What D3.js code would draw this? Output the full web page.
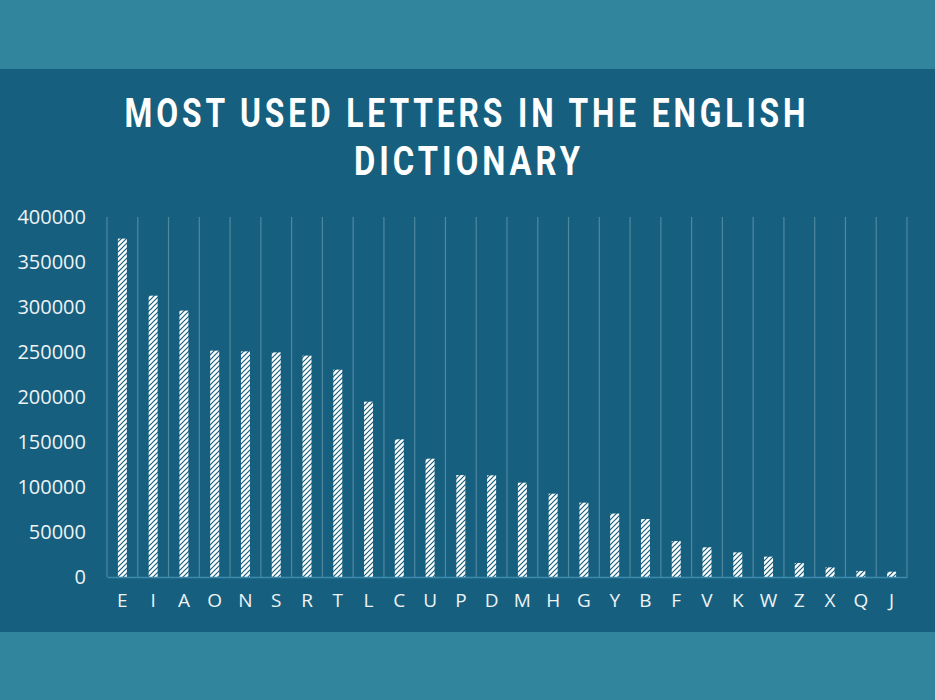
<!DOCTYPE html>
<html>
<head>
<meta charset="utf-8">
<script src="https://cdn.jsdelivr.net/npm/d3@7"></script>
<style>
  html, body { margin: 0; padding: 0; background: #31859C; }
  svg { display: block; }
</style>
</head>
<body>
<script>
const letters = ["E","I","A","O","N","S","R","T","L","C","U","P","D","M","H","G","Y","B","F","V","K","W","Z","X","Q","J"];
const counts = [376000,312600,296000,251500,250700,249600,246000,230400,194800,153000,131500,113300,113000,104800,92600,82600,70500,64400,40000,33000,27400,22600,15600,10700,6700,5900];
const yTicks = [0,50000,100000,150000,200000,250000,300000,350000,400000];
const titleLines = ["MOST USED LETTERS IN THE ENGLISH", "DICTIONARY"];

const W = 935, H = 700;
const svg = d3.select("body").append("svg").attr("width", W).attr("height", H);

// backgrounds
svg.append("rect").attr("width", W).attr("height", H).attr("fill", "#31859C");
svg.append("rect").attr("x", 0).attr("y", 69).attr("width", W).attr("height", 563).attr("fill", "#175F7E");

// pattern
const defs = svg.append("defs");
const pat = defs.append("pattern").attr("id", "diag").attr("patternUnits", "userSpaceOnUse")
  .attr("width", 5).attr("height", 5);
pat.append("rect").attr("width", 5).attr("height", 5).attr("fill", "#ffffff");
pat.append("path").attr("d", "M-1,1 L1,-1 M0,5 L5,0 M4,6 L6,4")
  .attr("stroke", "#175F7E").attr("stroke-width", 1.2);

const plot = {left: 107, right: 907, top: 217, bottom: 577};

const x = d3.scaleBand().domain(letters).range([plot.left, plot.right]).paddingInner(0).paddingOuter(0);
const y = d3.scaleLinear().domain([0, 400000]).range([plot.bottom, plot.top]);

const gridColor = "#4F88A2";

// vertical gridlines at band boundaries
const bounds = letters.map(d => x(d)).concat([x(letters[letters.length-1]) + x.bandwidth()]);
svg.append("g").selectAll("line").data(bounds).join("line")
  .attr("x1", d => d).attr("x2", d => d)
  .attr("y1", y(400000)).attr("y2", y(0))
  .attr("stroke", gridColor).attr("stroke-width", 1.2);

// bars
const barW = 9;
svg.append("g").selectAll("rect").data(letters.map((l, i) => ({l, v: counts[i]}))).join("rect")
  .attr("x", d => x(d.l) + x.bandwidth()/2 - barW/2)
  .attr("y", d => y(d.v))
  .attr("width", barW)
  .attr("height", d => y(0) - y(d.v))
  .attr("fill", "url(#diag)");

// x axis
const xAxis = svg.append("g").attr("transform", `translate(0,${plot.bottom})`)
  .call(d3.axisBottom(x).tickSize(0).tickPadding(17));
xAxis.select(".domain").attr("stroke", "#3C8BAE").attr("stroke-width", 1.5);
xAxis.selectAll("text").attr("fill", "#EEF3F6").style("font-family", "'Open Sans', sans-serif").style("font-size", "19px");

// y axis
const yAxis = svg.append("g").attr("transform", `translate(${plot.left - 21},0)`)
  .call(d3.axisLeft(y).tickValues(yTicks).tickFormat(d3.format("d")).tickSize(0).tickPadding(0));
yAxis.select(".domain").remove();
yAxis.selectAll("text").attr("fill", "#EEF3F6").style("font-family", "'Open Sans', sans-serif").style("font-size", "20px");

// title: bold, letter-spaced, horizontally condensed to fit target widths
function titleLine(txt, cx, baseline, targetW) {
  const t = svg.append("text").attr("x", 0).attr("y", 0).attr("text-anchor", "middle")
    .style("font-family", "Roboto, sans-serif").style("font-weight", 700).style("font-size", "41px")
    .style("letter-spacing", "5px")
    .attr("fill", "#ffffff").text(txt);
  const w = t.node().getComputedTextLength();
  const sx = targetW / w;
  t.attr("transform", `translate(${cx + 2.5*sx},${baseline}) scale(${sx},1)`);
}
titleLine(titleLines[0], 465, 127, 685);
titleLine(titleLines[1], 467, 175, 230);
</script>
</body>
</html>
